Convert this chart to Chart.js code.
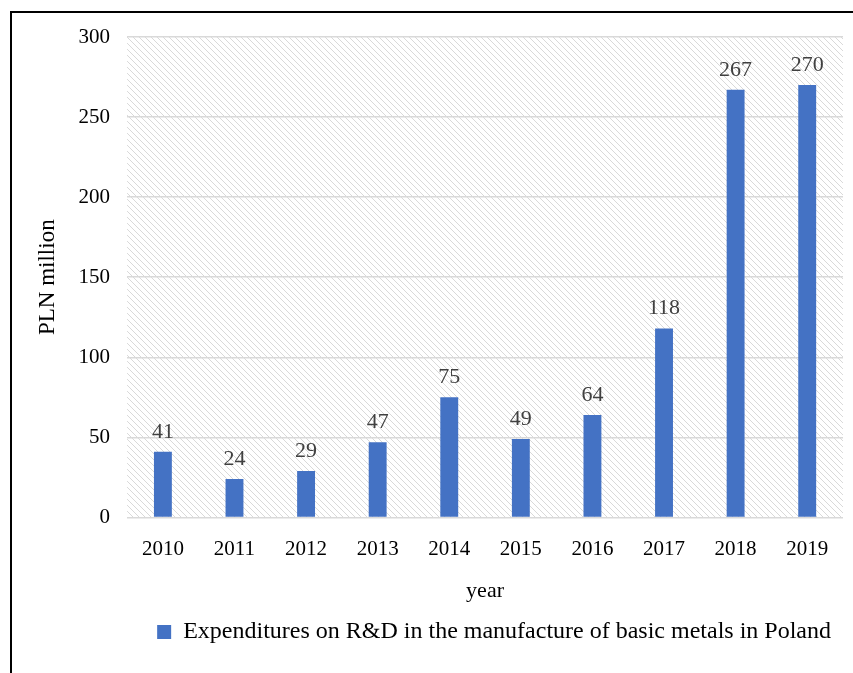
<!DOCTYPE html>
<html>
<head>
<meta charset="utf-8">
<script src="https://cdn.jsdelivr.net/npm/chart.js@4"></script>
<style>
  html, body { margin: 0; padding: 0; background: #fff; }
  #wrap { width: 853px; height: 673px; }
</style>
</head>
<body>
<div id="wrap"><canvas id="rdChart" width="853" height="673"></canvas></div>
<script>
// === DATOS ===
const years = ["2010", "2011", "2012", "2013", "2014", "2015", "2016", "2017", "2018", "2019"];
const expenditures = [41, 24, 29, 47, 75, 49, 64, 118, 267, 270];
const seriesLabel = "Expenditures on R&D in the manufacture of basic metals in Poland";

const serif = "'Liberation Serif', 'DejaVu Serif', serif";

// fondo rayado del area del grafico
function hatchPattern(ctx) {
    const c = document.createElement("canvas");
    c.width = 6; c.height = 6;
    const p = c.getContext("2d");
    p.strokeStyle = "#d9d9d9";
    p.lineWidth = 1;
    p.beginPath();
    p.moveTo(0, 0); p.lineTo(6, 6);
    p.moveTo(-3, 3); p.lineTo(3, 9);
    p.moveTo(3, -3); p.lineTo(9, 3);
    p.stroke();
    return ctx.createPattern(c, "repeat");
}

const hatchBg = {
    id: "hatchBg",
    beforeDraw(chart) {
        const { ctx, chartArea: a } = chart;
        ctx.save();
        ctx.fillStyle = hatchPattern(ctx);
        ctx.fillRect(a.left, a.top, a.right - a.left, a.bottom - a.top);
        ctx.restore();
    }
};

// marco negro (izquierda y arriba)
const frame = {
    id: "frame",
    afterDraw(chart) {
        const ctx = chart.ctx;
        ctx.save();
        ctx.strokeStyle = "#000";
        ctx.lineWidth = 2;
        ctx.beginPath();
        ctx.moveTo(11, 673);
        ctx.lineTo(11, 12);
        ctx.lineTo(853, 12);
        ctx.stroke();
        ctx.restore();
    }
};

// etiquetas de valores encima de las barras
const valueLabels = {
    id: "valueLabels",
    afterDatasetsDraw(chart) {
        const ctx = chart.ctx;
        const meta = chart.getDatasetMeta(0);
        ctx.save();
        ctx.font = "22px " + serif;
        ctx.fillStyle = "#404040";
        ctx.textAlign = "center";
        ctx.textBaseline = "bottom";
        meta.data.forEach((bar, i) => {
            ctx.fillText(expenditures[i], bar.x, bar.y - 9);
        });
        ctx.restore();
    }
};

const rdChart = new Chart(document.getElementById("rdChart"), {
    type: "bar",
    data: {
        labels: years,
        datasets: [{
            label: seriesLabel,
            data: expenditures,
            backgroundColor: "#4472c4",
            categoryPercentage: 0.5,
            barPercentage: 0.5
        }]
    },
    options: {
        responsive: false,
        animation: false,
        layout: {
            padding: { top: 37, right: 10, left: 34, bottom: 19 }
        },
        plugins: {
            legend: {
                position: "bottom",
                align: "end",
                labels: {
                    color: "#000",
                    font: { family: serif, size: 24 },
                    boxWidth: 14,
                    boxHeight: 14,
                    padding: 12
                }
            },
            tooltip: { enabled: false }
        },
        scales: {
            x: {
                grid: { display: false },
                border: { display: false },
                ticks: { color: "#000", font: { family: serif, size: 21 }, padding: 11 },
                title: {
                    display: true,
                    text: "year",
                    color: "#000",
                    font: { family: serif, size: 22 },
                    padding: { top: 5, bottom: 4 }
                }
            },
            y: {
                min: 0,
                max: 300,
                ticks: { stepSize: 50, color: "#000", font: { family: serif, size: 21 }, padding: 17 },
                grid: { color: "#d9d9d9", lineWidth: 1.5, drawTicks: false },
                border: { display: false },
                title: {
                    display: true,
                    text: "PLN million",
                    color: "#000",
                    font: { family: serif, size: 23 },
                    padding: { top: 0, bottom: 0 }
                }
            }
        }
    },
    plugins: [hatchBg, valueLabels, frame]
});
</script>
</body>
</html>
